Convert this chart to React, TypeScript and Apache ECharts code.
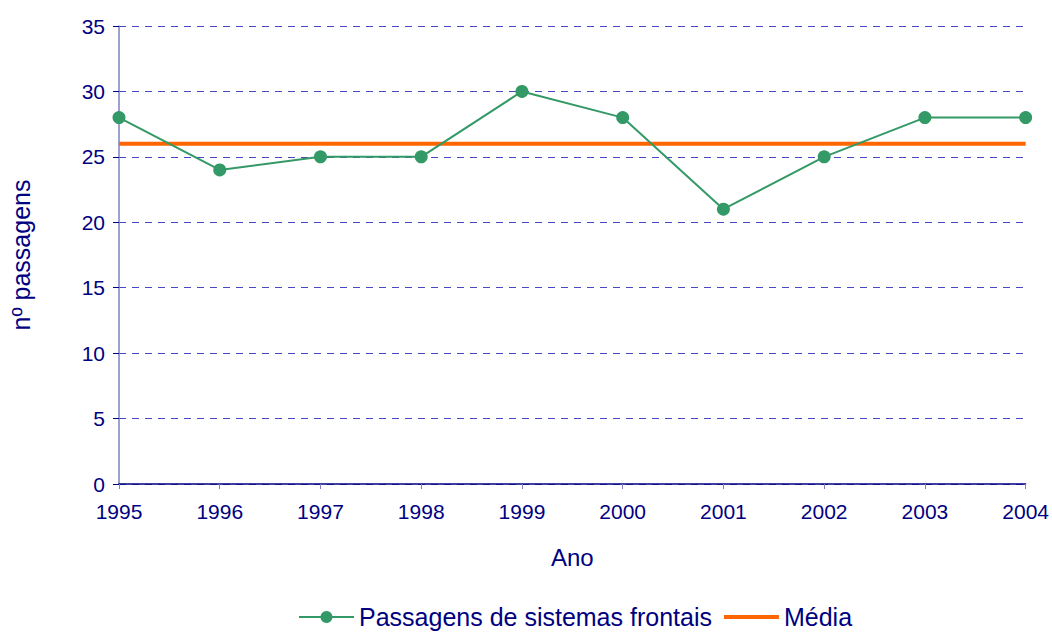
import React, { useEffect, useRef } from "react";
import * as echarts from "echarts";

const years = ["1995", "1996", "1997", "1998", "1999", "2000", "2001", "2002", "2003", "2004"];
const passagens = [28, 24, 25, 25, 30, 28, 21, 25, 28, 28];
const media = [26, 26, 26, 26, 26, 26, 26, 26, 26, 26];
const seriesNames = ["Passagens de sistemas frontais", "Média"];

const navy = "#000080";
const font = "'Liberation Sans', Arial, sans-serif";

export default function App() {
  const ref = useRef<HTMLDivElement>(null);
  useEffect(() => {
    if (!ref.current) return;
    const chart = echarts.init(ref.current, undefined, { renderer: "svg" });
    chart.setOption({
      animation: false,
      backgroundColor: "#ffffff",
      textStyle: { fontFamily: font },
      grid: { left: 118, top: 26, width: 908, height: 458, containLabel: false },
      legend: {
        bottom: 0,
        left: 293,
        itemWidth: 55,
        itemHeight: 15,
        itemGap: 10,
        textStyle: { color: navy, fontSize: 25, lineHeight: 26, fontFamily: font },
        data: [
          { name: seriesNames[0] },
          { name: seriesNames[1], itemStyle: { opacity: 0 }, lineStyle: { width: 4, color: "#ff6600" } },
        ],
      },
      xAxis: {
        type: "category",
        data: years,
        boundaryGap: false,
        name: "Ano",
        nameLocation: "middle",
        nameGap: 61,
        nameTextStyle: { color: navy, fontSize: 24, fontFamily: font },
        axisLine: { lineStyle: { color: navy, width: 1.5 } },
        axisTick: { show: true, length: 5, lineStyle: { color: "#8080c0" }, alignWithLabel: true },
        axisLabel: { color: navy, fontSize: 21, margin: 17, fontFamily: font },
        splitLine: { show: false },
      },
      yAxis: {
        type: "value",
        min: 0,
        max: 35,
        interval: 5,
        name: "nº passagens",
        nameLocation: "middle",
        nameGap: 86,
        nameTextStyle: { color: navy, fontSize: 25, fontFamily: font },
        axisLine: { show: true, lineStyle: { color: "#8080c0", width: 1.5 } },
        axisTick: { show: true, length: 6, lineStyle: { color: navy } },
        axisLabel: { color: navy, fontSize: 21, margin: 14, fontFamily: font },
        splitLine: { show: true, lineStyle: { color: "#4848c0", type: [7, 6], width: 1 } },
      },
      series: [
        {
          name: seriesNames[0],
          type: "line",
          data: passagens,
          symbol: "circle",
          symbolSize: 13,
          itemStyle: { color: "#339966" },
          lineStyle: { color: "#339966", width: 2 },
          z: 3,
        },
        {
          name: seriesNames[1],
          type: "line",
          data: media,
          symbol: "none",
          itemStyle: { color: "#ff6600" },
          lineStyle: { color: "#ff6600", width: 4 },
          z: 2,
        },
      ],
    });
    return () => chart.dispose();
  }, []);
  return (
    <div
      ref={ref}
      style={{ position: "fixed", left: 0, top: 0, width: 1052, height: 635 }}
    />
  );
}
